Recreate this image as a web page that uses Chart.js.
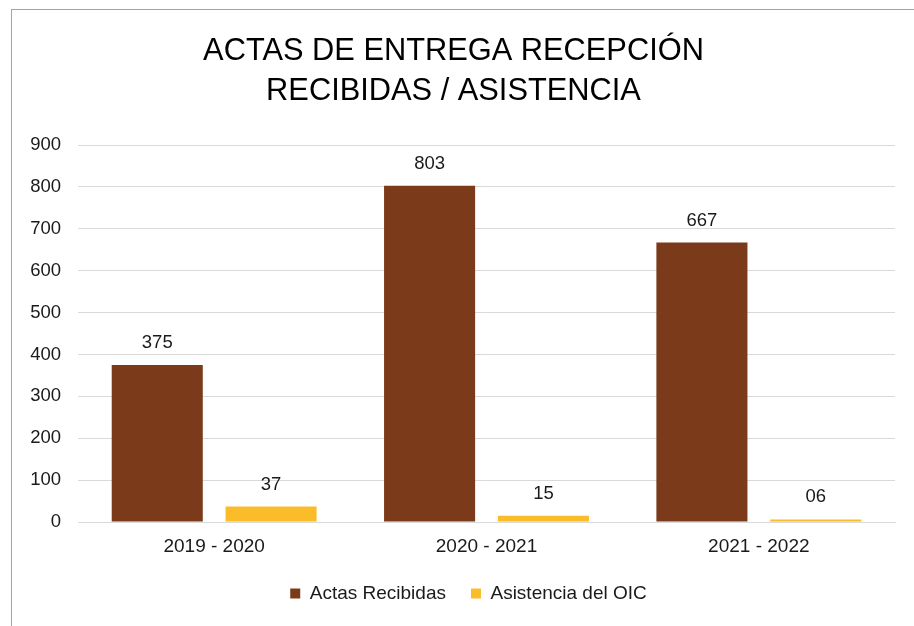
<!DOCTYPE html>
<html>
<head>
<meta charset="utf-8">
<script src="https://cdn.jsdelivr.net/npm/chart.js@4/dist/chart.umd.min.js"></script>
<style>
  html, body { margin: 0; padding: 0; background: #ffffff; overflow: hidden; }
  #wrap { position: relative; width: 914px; height: 626px; }
  #c { position: absolute; left: 0; top: 0; }
  #frame { position: absolute; left: 11px; top: 9px; width: 1000px; height: 1000px;
           border: 1px solid #a3a3a3; pointer-events: none; }
</style>
</head>
<body>
<div id="wrap">
  <canvas id="c" width="914" height="626"></canvas>
  <div id="frame"></div>
</div>
<script>
const categories = ['2019 - 2020', '2020 - 2021', '2021 - 2022'];
const actasRecibidas = [375, 803, 667];
const asistenciaOIC = [37, 15, 6];
const seriesNames = ['Actas Recibidas', 'Asistencia del OIC'];
const yTicks = [0, 100, 200, 300, 400, 500, 600, 700, 800, 900];
const titleLines = ['ACTAS DE ENTREGA RECEPCIÓN', 'RECIBIDAS / ASISTENCIA'];

const FONT = '"Liberation Sans", Arial, Helvetica, sans-serif';

const dataLabelPlugin = {
  id: 'dataLabels',
  afterDatasetsDraw(chart) {
    const ctx = chart.ctx;
    ctx.save();
    ctx.font = '18.5px ' + FONT;
    ctx.fillStyle = '#1a1a1a';
    ctx.textAlign = 'center';
    ctx.textBaseline = 'alphabetic';
    chart.data.datasets.forEach((ds, di) => {
      const meta = chart.getDatasetMeta(di);
      meta.data.forEach((bar, i) => {
        const txt = String(ds.data[i]).padStart(2, '0');
        ctx.fillText(txt, bar.x, bar.y - 17);
      });
    });
    ctx.restore();
  }
};

// the legend in the reference sits a little right of centre
const legendShiftPlugin = {
  id: 'legendShift',
  afterLayout(chart) {
    if (chart.legend) {
      chart.legend.left += 15;
      chart.legend.right += 15;
    }
  }
};

new Chart(document.getElementById('c'), {
  type: 'bar',
  data: {
    labels: categories,
    datasets: [
      { label: seriesNames[0], data: actasRecibidas, backgroundColor: '#7b3a19' },
      { label: seriesNames[1], data: asistenciaOIC, backgroundColor: '#fbbc2a' }
    ]
  },
  options: {
    responsive: false,
    animation: false,
    devicePixelRatio: 1,
    categoryPercentage: 0.836,
    barPercentage: 0.80,
    layout: { padding: { left: 12, right: 19, top: 0, bottom: 13 } },
    plugins: {
      tooltip: { enabled: false },
      title: {
        display: true,
        text: titleLines,
        color: '#000000',
        font: { family: FONT, size: 30.8, weight: 'normal', lineHeight: 40 / 30.8 },
        padding: { top: 32, bottom: 33 }
      },
      legend: {
        position: 'bottom',
        labels: {
          color: '#1a1a1a',
          font: { family: FONT, size: 19 },
          boxWidth: 10,
          boxHeight: 10,
          padding: 25
        }
      }
    },
    scales: {
      x: {
        grid: { display: false, drawTicks: false },
        border: { display: true, color: '#d9d9d9', width: 1 },
        ticks: { color: '#1a1a1a', font: { family: FONT, size: 19 }, padding: 13 },
        afterFit(scale) { scale.height = 37; }
      },
      y: {
        min: 0,
        max: 900,
        afterBuildTicks(scale) { scale.ticks = yTicks.map(v => ({ value: v })); },
        grid: { color: '#d9d9d9', drawTicks: false },
        border: { display: false },
        ticks: { color: '#1a1a1a', font: { family: FONT, size: 18.5 }, padding: 17 },
        afterFit(scale) { scale.width = 66; }
      }
    }
  },
  plugins: [dataLabelPlugin, legendShiftPlugin]
});
</script>
</body>
</html>
